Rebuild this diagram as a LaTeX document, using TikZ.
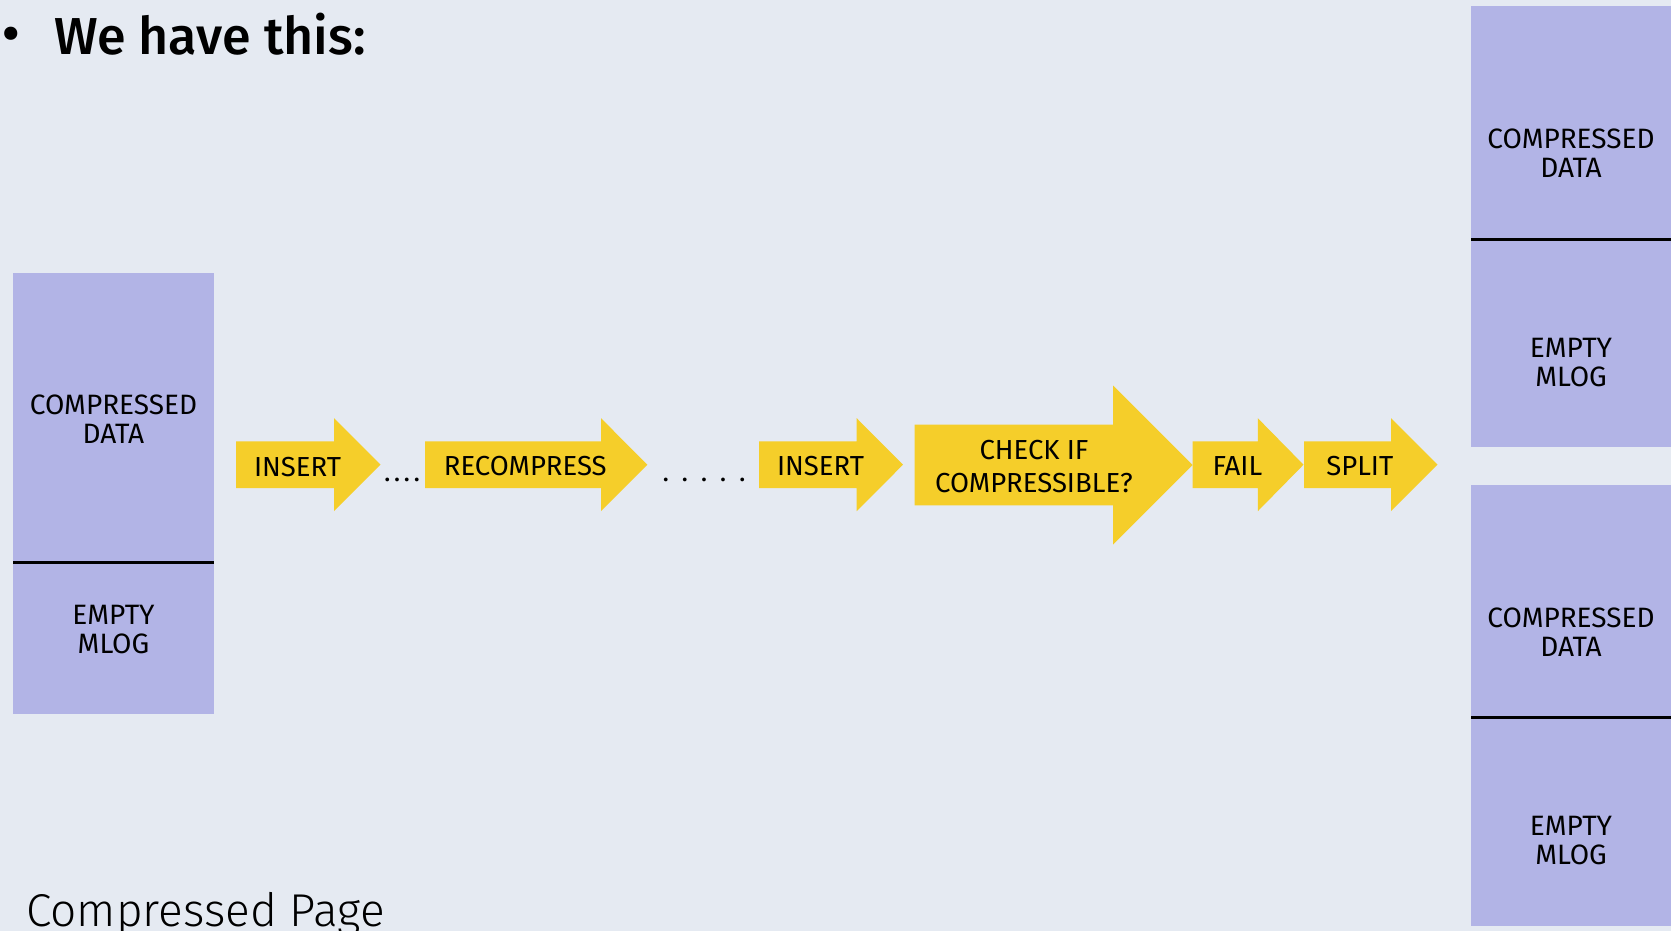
\documentclass[tikz,border=0pt]{standalone}
\usepackage{fontspec}
\setmainfont{Fira Sans}
\newfontfamily\headfont{Fira Sans Medium}
\newfontfamily\lightfont{Fira Sans Light}
\definecolor{bgc}{RGB}{229,234,242}
\definecolor{boxc}{RGB}{178,180,230}
\definecolor{arrowc}{RGB}{245,206,42}
\newcommand{\flowarrow}[6]{%
  \fill[arrowc] (#1,#6-#4) -- (#2,#6-#4) -- (#2,#6-#5) -- (#3,#6) -- (#2,#6+#5) -- (#2,#6+#4) -- (#1,#6+#4) -- cycle;}
\begin{document}
\begin{tikzpicture}[x=1pt,y=-1pt,
  boxlbl/.style={font=\fontsize{28}{29}\selectfont, align=center, inner sep=0pt, text=black},
  arrlbl/.style={font=\fontsize{27.5}{33}\selectfont, align=center, inner sep=0pt, text=black},
  dotlbl/.style={font=\fontsize{27}{32}\selectfont, inner sep=0pt, anchor=base, text=black},
  divider/.style={line width=3pt, black}]
\useasboundingbox (0,0) rectangle (1671,931);
\fill[bgc] (0,0) rectangle (1671,931);

% heading
\node[font=\fontsize{52}{60}\selectfont\headfont, inner sep=0pt] (bul) at (11,39.5) {\textbullet};
\node[font=\fontsize{52}{60}\selectfont\headfont, inner sep=0pt, anchor=base west] (head) at (54,55) {We have this:};

% left page
\fill[boxc] (13,273) rectangle (214,713.7);
\draw[divider] (13,562) -- (214,562);
\node[boxlbl] (lcd) at (113.5,419.5) {COMPRESSED\\DATA};
\node[boxlbl] (lem) at (113.5,629.5) {EMPTY\\MLOG};
\node[font=\fontsize{46}{54}\selectfont\lightfont, inner sep=0pt, anchor=base west] (cap) at (26,926.7) {Compressed Page};

% right pages
\fill[boxc] (1471,6) rectangle (1671,446.7);
\draw[divider] (1471,239.3) -- (1671,239.3);
\node[boxlbl] (rcd1) at (1571,153) {COMPRESSED\\DATA};
\node[boxlbl] (rem1) at (1571,363) {EMPTY\\MLOG};
\fill[boxc] (1471,485) rectangle (1671,925.7);
\draw[divider] (1471,717.7) -- (1671,717.7);
\node[boxlbl] (rcd2) at (1571,632) {COMPRESSED\\DATA};
\node[boxlbl] (rem2) at (1571,841) {EMPTY\\MLOG};

% arrows
\flowarrow{236}{334}{380.5}{23.3}{46.5}{464.7}
\flowarrow{425}{601}{647.3}{23.3}{46.5}{464.7}
\flowarrow{759}{856.7}{903}{23.3}{46.5}{464.7}
\flowarrow{914.6}{1113}{1192.5}{40.3}{79.5}{465}
\flowarrow{1192.5}{1257.8}{1303.5}{23.3}{46.5}{464.7}
\flowarrow{1304}{1391}{1437.5}{23.3}{46.5}{464.7}

\node[arrlbl] (ins1) at (297.5,467) {INSERT};
\node[arrlbl] (recomp) at (525.3,466.5) {RECOMPRESS};
\node[arrlbl] (ins2) at (820.5,466.5) {INSERT};
\node[arrlbl] (check) at (1034,466.5) {CHECK IF\\COMPRESSIBLE?};
\node[arrlbl] (fail) at (1237.4,466.5) {FAIL};
\node[arrlbl] (split) at (1359.8,466.5) {SPLIT};

% ellipses
\node[dotlbl] (dots1) at (402,481) {\makebox[36pt][s]{.\hfill.\hfill.\hfill.}};
\node[dotlbl] (dots2) at (704,481) {\makebox[83pt][s]{.\hfill.\hfill.\hfill.\hfill.}};
\end{tikzpicture}
\end{document}
